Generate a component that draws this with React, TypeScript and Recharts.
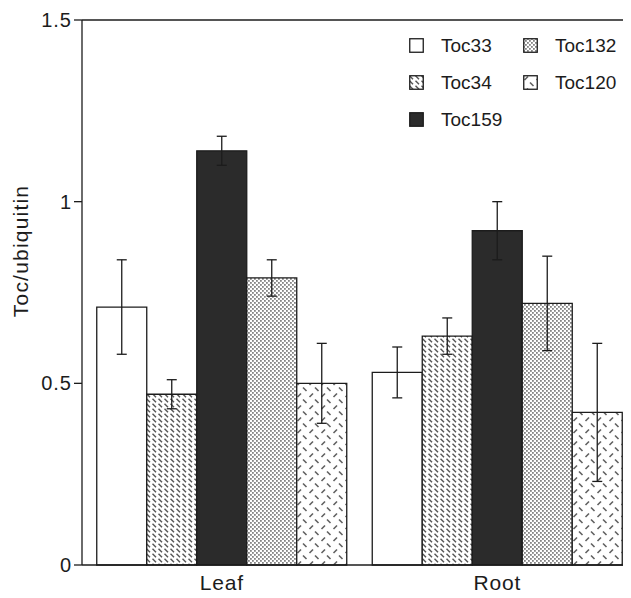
import React from 'react';
import { BarChart, Bar, XAxis, YAxis, ErrorBar, Legend, ReferenceLine, Label } from 'recharts';

const categories = ['Leaf', 'Root'];
const seriesNames = ['Toc33', 'Toc34', 'Toc159', 'Toc132', 'Toc120'];
const toc33 = [0.71, 0.53];
const toc33Err = [0.13, 0.07];
const toc34 = [0.47, 0.63];
const toc34Err = [0.04, 0.05];
const toc159 = [1.14, 0.92];
const toc159Err = [0.04, 0.08];
const toc132 = [0.79, 0.72];
const toc132Err = [0.05, 0.13];
const toc120 = [0.5, 0.42];
const toc120Err = [0.11, 0.19];
const yTicks = [0, 0.5, 1, 1.5];
const legendOrder = ['Toc33', 'Toc132', 'Toc34', 'Toc120', 'Toc159'];

const values: Record<string, number[]> = { Toc33: toc33, Toc34: toc34, Toc159: toc159, Toc132: toc132, Toc120: toc120 };
const errors: Record<string, number[]> = { Toc33: toc33Err, Toc34: toc34Err, Toc159: toc159Err, Toc132: toc132Err, Toc120: toc120Err };

const data = categories.map((name, i) => {
  const row: Record<string, string | number> = { name };
  seriesNames.forEach((s) => {
    row[s] = values[s][i];
    row[s + 'Err'] = errors[s][i];
  });
  return row;
});

const fills: Record<string, string> = {
  Toc33: '#ffffff',
  Toc34: 'url(#pat34)',
  Toc159: '#2b2b2b',
  Toc132: 'url(#pat132)',
  Toc120: 'url(#pat120)',
};

const INK = '#1c1c1c';
const FONT = '"Liberation Sans", Arial, Helvetica, sans-serif';

const LegendContent = () => (
  <div
    style={{
      display: 'grid',
      gridTemplateColumns: '114px 114px',
      rowGap: 22,
      fontFamily: FONT,
      fontSize: 19,
      color: INK,
    }}
  >
    {legendOrder.map((s) => (
      <div key={s} style={{ display: 'flex', alignItems: 'center', height: 15 }}>
        <svg width={15} height={15} style={{ marginRight: 17, flex: 'none' }}>
          <rect x={0.75} y={0.75} width={13.5} height={13.5} fill={fills[s]} stroke={INK} strokeWidth={1.3} />
        </svg>
        <span style={{ lineHeight: '15px' }}>{s}</span>
      </div>
    ))}
  </div>
);

const YLabel = () => (
  <text
    x={20}
    y={243}
    transform="rotate(-90, 20, 243)"
    textAnchor="middle"
    fill={INK}
    fontSize={21}
    fontFamily={FONT}
    letterSpacing={1.2}
  >
    Toc/ubiquitin
  </text>
);

export default function App() {
  return (
    <div style={{ width: 623, height: 590, fontFamily: FONT }}>
      <BarChart
        width={623}
        height={590}
        data={data}
        margin={{ top: 12, right: 0, bottom: 0, left: 0 }}
        barGap={0}
        barCategoryGap={12.75}
      >
        <defs>
          <pattern id="pat34" width={6} height={5} patternUnits="userSpaceOnUse">
            <rect width={6} height={5} fill="#ffffff" />
            <line x1={0.5} y1={0.8} x2={4} y2={4.2} stroke="#555" strokeWidth={1.5} />
          </pattern>
          <pattern id="pat132" width={4} height={4} patternUnits="userSpaceOnUse">
            <rect width={4} height={4} fill="#ffffff" />
            <rect x={0} y={0} width={1.8} height={1.8} fill="#858585" />
            <rect x={2} y={2} width={1.8} height={1.8} fill="#858585" />
          </pattern>
          <pattern id="pat120" width={12} height={12} patternUnits="userSpaceOnUse">
            <rect width={12} height={12} fill="#ffffff" />
            <line x1={1.5} y1={5} x2={5} y2={1.5} stroke="#606060" strokeWidth={1.6} />
            <line x1={7} y1={7.5} x2={10.5} y2={11} stroke="#606060" strokeWidth={1.6} />
          </pattern>
        </defs>
        <XAxis
          dataKey="name"
          height={33}
          padding={{ left: 2, right: -7 }}
          tickLine={false}
          tickSize={6}
          tickMargin={4}
          axisLine={{ stroke: INK, strokeWidth: 1.3 }}
          tick={{ fill: INK, fontSize: 21, fontFamily: FONT, letterSpacing: 0.8 }}
        />
        <YAxis
          width={74}
          domain={[0, 1.5]}
          ticks={yTicks}
          tickSize={8}
          tickMargin={2}
          axisLine={{ stroke: INK, strokeWidth: 1.3 }}
          tickLine={{ stroke: INK, strokeWidth: 1.3 }}
          tick={{ fill: INK, fontSize: 20, fontFamily: FONT, letterSpacing: 1 }}
        >
          <Label content={YLabel} />
        </YAxis>
        <YAxis
          yAxisId="frame"
          orientation="right"
          width={3}
          domain={[0, 1.5]}
          tick={false}
          tickLine={false}
          axisLine={{ stroke: INK, strokeWidth: 1.3 }}
        />
        <ReferenceLine y={1.5} stroke={INK} strokeWidth={1.3} />
        <Legend
          layout="horizontal"
          verticalAlign="middle"
          align="center"
          content={LegendContent}
          wrapperStyle={{ left: 401, top: 30, width: 230, height: 120 }}
        />
        {seriesNames.map((s) => (
          <Bar key={s} dataKey={s} fill={fills[s]} stroke={INK} strokeWidth={1.3} isAnimationActive={false}>
            <ErrorBar dataKey={s + 'Err'} direction="y" width={5} stroke={INK} strokeWidth={1.3} />
          </Bar>
        ))}
      </BarChart>
    </div>
  );
}
